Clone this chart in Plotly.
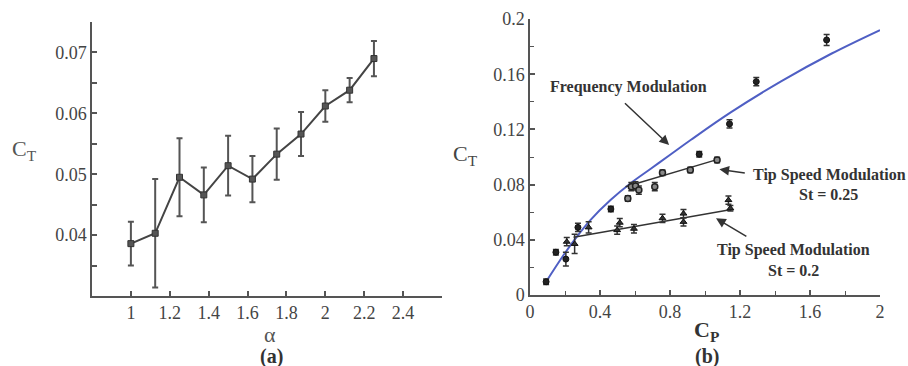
import plotly.graph_objects as go

# ---- Panel (a) data ----
alpha = [1, 1.125, 1.25, 1.375, 1.5, 1.625, 1.75, 1.875, 2, 2.125, 2.25]
ct_a = [0.0386, 0.0403, 0.0495, 0.0466, 0.0514, 0.0492, 0.0533, 0.0566, 0.0612, 0.0638, 0.0690]
ct_a_err = [0.0036, 0.0089, 0.0064, 0.0045, 0.0049, 0.0038, 0.0042, 0.0036, 0.0026, 0.0020, 0.0029]

# ---- Panel (b) data ----
fm_curve_cp = [0.092, 0.192, 0.268, 0.345, 0.46, 0.575, 0.69, 0.805, 0.92, 1.149, 1.437, 1.724, 2.0]
fm_curve_ct = [0.0096, 0.029, 0.0423, 0.0543, 0.0688, 0.081, 0.0915, 0.102, 0.1125, 0.1325, 0.155, 0.175, 0.192]

fit25_cp = [0.546, 1.073]
fit25_ct = [0.0785, 0.0983]
fit20_cp = [0.249, 1.159]
fit20_ct = [0.0418, 0.0621]

freq_cp = [0.092, 0.148, 0.205, 0.274, 0.462, 0.967, 1.14, 1.293, 1.695]
freq_ct = [0.0096, 0.031, 0.026, 0.049, 0.0623, 0.102, 0.124, 0.1546, 0.1848]
freq_err = [0.002, 0.002, 0.005, 0.003, 0.002, 0.002, 0.003, 0.003, 0.004]

st25_cp = [0.559, 0.579, 0.603, 0.622, 0.713, 0.757, 0.916, 1.069]
st25_ct = [0.070, 0.0785, 0.079, 0.076, 0.0785, 0.0886, 0.0906, 0.0978]
st25_err = [0.002, 0.003, 0.003, 0.003, 0.003, 0.002, 0.002, 0.002]

st20_cp = [0.21, 0.255, 0.335, 0.498, 0.513, 0.594, 0.757, 0.877, 0.877, 1.134, 1.145]
st20_ct = [0.0386, 0.037, 0.049, 0.047, 0.0524, 0.048, 0.0556, 0.059, 0.053, 0.0688, 0.0628]
st20_err = [0.003, 0.007, 0.004, 0.003, 0.003, 0.003, 0.003, 0.003, 0.003, 0.003, 0.002]

a_xticks = [1, 1.2, 1.4, 1.6, 1.8, 2, 2.2, 2.4]
a_yticks = [0.04, 0.05, 0.06, 0.07]
b_xticks = [0, 0.4, 0.8, 1.2, 1.6, 2]
b_yticks = [0, 0.04, 0.08, 0.12, 0.16, 0.2]

W, H = 908, 366
SERIF = "Liberation Serif, Times New Roman, serif"
AX = "#555"
TXT = "#444"

fig = go.Figure()

# Panel (a)
fig.add_trace(go.Scatter(
    x=alpha, y=ct_a, mode="lines+markers",
    line=dict(color="#444", width=2),
    marker=dict(symbol="square", size=6, color="#555", line=dict(color="#333", width=1)),
    error_y=dict(type="data", array=ct_a_err, color="#555", thickness=2, width=3),
    xaxis="x", yaxis="y", showlegend=False))

# Panel (b)
fig.add_trace(go.Scatter(
    x=fm_curve_cp, y=fm_curve_ct, mode="lines",
    line=dict(color="#4f5fc4", width=2, shape="spline"),
    xaxis="x2", yaxis="y2", showlegend=False))
fig.add_trace(go.Scatter(
    x=fit25_cp, y=fit25_ct, mode="lines", line=dict(color="#333", width=1.5),
    xaxis="x2", yaxis="y2", showlegend=False))
fig.add_trace(go.Scatter(
    x=fit20_cp, y=fit20_ct, mode="lines", line=dict(color="#333", width=1.5),
    xaxis="x2", yaxis="y2", showlegend=False))
fig.add_trace(go.Scatter(
    x=freq_cp, y=freq_ct, mode="markers",
    marker=dict(symbol="circle", size=6, color="#222", line=dict(color="#111", width=1)),
    error_y=dict(type="data", array=freq_err, color="#333", thickness=1.5, width=3),
    xaxis="x2", yaxis="y2", showlegend=False))
fig.add_trace(go.Scatter(
    x=st25_cp, y=st25_ct, mode="markers",
    marker=dict(symbol="circle", size=6, color="#888", line=dict(color="#222", width=1.5)),
    error_y=dict(type="data", array=st25_err, color="#333", thickness=1.5, width=3),
    xaxis="x2", yaxis="y2", showlegend=False))
fig.add_trace(go.Scatter(
    x=st20_cp, y=st20_ct, mode="markers",
    marker=dict(symbol="triangle-up", size=6, color="#333", line=dict(color="#111", width=1)),
    error_y=dict(type="data", array=st20_err, color="#333", thickness=1.5, width=3),
    xaxis="x2", yaxis="y2", showlegend=False))

axis_common = dict(showline=True, linecolor=AX, linewidth=1.5, ticks="inside",
                   tickcolor=AX, tickwidth=1.5, ticklen=5, showgrid=False, zeroline=False,
                   automargin=False,
                   tickfont=dict(family=SERIF, size=18, color=TXT), mirror=False)

fig.update_layout(
    width=W, height=H, margin=dict(l=0, r=0, t=0, b=0, pad=0, autoexpand=False),
    paper_bgcolor="white", plot_bgcolor="white",
    xaxis=dict(domain=[92 / W, 442 / W], range=[0.8, 2.6], tickvals=a_xticks,
               ticktext=[str(v) for v in a_xticks], anchor="y", **axis_common),
    yaxis=dict(domain=[1 - 296 / H, 1 - 22 / H], range=[0.03, 0.075], tickvals=a_yticks,
               ticktext=["0.04", "0.05", "0.06", "0.07"], anchor="x",
               minor=dict(tickvals=[0.035, 0.045, 0.055, 0.065], ticks="inside", ticklen=5,
                          tickcolor=AX, tickwidth=1.5),
               **axis_common),
    xaxis2=dict(domain=[530 / W, 880 / W], range=[0, 2], tickvals=b_xticks,
                ticktext=["0", "0.4", "0.8", "1.2", "1.6", "2"], anchor="y2",
                minor=dict(dtick=0.2, ticks="inside", ticklen=4, tickcolor=AX, tickwidth=1.2),
                **axis_common),
    yaxis2=dict(domain=[1 - 295 / H, 1 - 19 / H], range=[0, 0.2], tickvals=b_yticks,
                ticktext=["0", "0.04", "0.08", "0.12", "0.16", "0.2"], anchor="x2",
                minor=dict(dtick=0.02, ticks="inside", ticklen=4, tickcolor=AX, tickwidth=1.2),
                **axis_common),
)

def ptext(px, py, text, size=17, bold=False, color=TXT):
    fig.add_annotation(x=px / W, y=1 - py / H, xref="paper", yref="paper",
                       text=("<b>%s</b>" % text) if bold else text, showarrow=False,
                       xanchor="center", yanchor="middle",
                       font=dict(family=SERIF, size=size, color=color))

ptext(24, 150, "C<sub>T</sub>", size=22, color="#555")
ptext(270, 334, "α", size=22, color="#555")
ptext(271, 356, "(a)", size=20, bold=True, color="#333")
ptext(465, 155, "C<sub>T</sub>", size=22, color="#444")
ptext(706, 331, "C<sub>P</sub>", size=22, bold=True, color="#333")
ptext(707, 356, "(b)", size=20, bold=True, color="#333")

def dtext(x, y, text):
    fig.add_annotation(x=x, y=y, xref="x2", yref="y2", text="<b>%s</b>" % text,
                       showarrow=False, xanchor="center", yanchor="middle",
                       font=dict(family=SERIF, size=16, color="#333"))

def arrow(x0, y0, x1, y1):
    fig.add_annotation(x=x1, y=y1, ax=x0, ay=y0, xref="x2", yref="y2",
                       axref="x2", ayref="y2", text="", showarrow=True,
                       arrowhead=2, arrowsize=1.3, arrowwidth=1.5, arrowcolor="#333")

dtext(0.563, 0.1507, "Frequency Modulation")
arrow(0.534, 0.140, 0.795, 0.1087)
dtext(1.713, 0.087, "Tip Speed Modulation")
dtext(1.707, 0.0725, "St = 0.25")
arrow(1.236, 0.0882, 1.082, 0.0911)
dtext(1.506, 0.0326, "Tip Speed Modulation")
dtext(1.506, 0.0174, "St = 0.2")
arrow(1.245, 0.0418, 1.063, 0.0556)

fig.write_html(
    "out.html",
    config={"displayModeBar": False},
    post_script="document.body.style.margin='0';document.body.style.overflow='hidden';",
)
